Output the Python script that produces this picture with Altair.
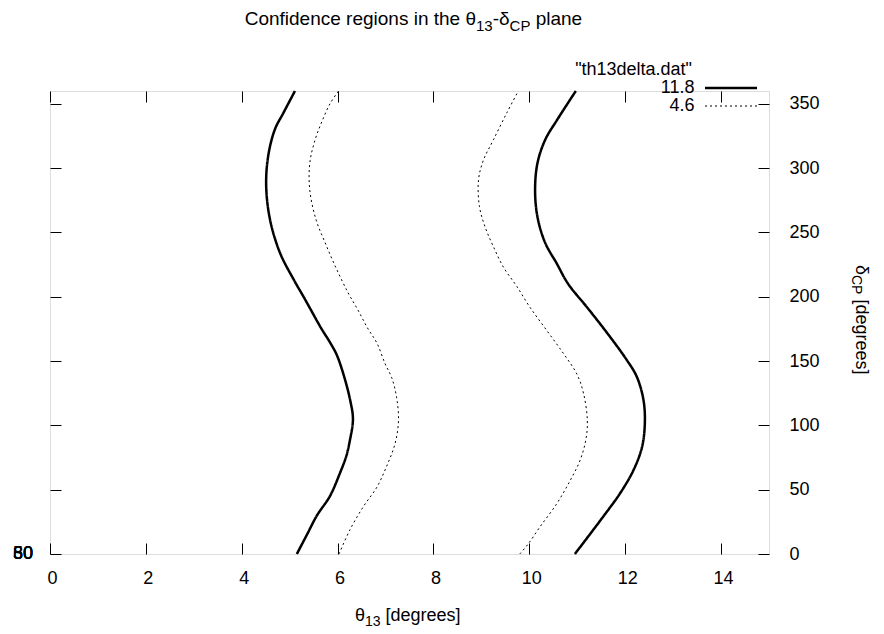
import altair as alt
import pandas as pd

# ---- data (theta13 in degrees vs deltaCP in degrees) ----
OUTER_L_D = [0, 15, 30, 45, 63, 76, 89, 105, 120, 140, 155, 164, 176, 190, 200, 213, 234, 260, 286, 309, 330, 343, 360]
OUTER_L_X = [5.15, 5.36, 5.57, 5.84, 6.05, 6.18, 6.26, 6.32, 6.26, 6.12, 5.98, 5.85, 5.65, 5.44, 5.29, 5.09, 4.80, 4.59, 4.51, 4.55, 4.69, 4.87, 5.11]

INNER_L_D = [0, 19, 37, 52, 68, 86, 104, 122, 137, 148, 164, 176, 190, 203, 223, 242, 260, 283, 304, 322, 336, 350, 360]
INNER_L_X = [6.03, 6.26, 6.54, 6.82, 7.02, 7.20, 7.27, 7.23, 7.13, 6.99, 6.82, 6.62, 6.42, 6.22, 5.96, 5.74, 5.55, 5.42, 5.42, 5.53, 5.67, 5.84, 6.02]

INNER_R_D = [0, 8, 21, 39, 57, 73, 89, 104, 125, 140, 156, 174, 192, 208, 223, 239, 254, 270, 291, 306, 322, 343, 360]
INNER_R_X = [9.80, 9.98, 10.22, 10.57, 10.85, 11.06, 11.18, 11.21, 11.13, 10.99, 10.71, 10.36, 10.01, 9.74, 9.46, 9.25, 9.08, 8.96, 8.94, 9.04, 9.25, 9.53, 9.77]

OUTER_R_D = [0, 29, 47, 65, 83, 102, 120, 138, 151, 172, 192, 210, 226, 242, 262, 283, 304, 322, 337, 360]
OUTER_R_X = [10.95, 11.54, 11.89, 12.17, 12.35, 12.41, 12.38, 12.24, 12.03, 11.62, 11.20, 10.81, 10.57, 10.33, 10.17, 10.12, 10.17, 10.33, 10.57, 10.97]

LEVELS = ["11.8", "4.6"]
X_TICKS = [0, 2, 4, 6, 8, 10, 12, 14]
Y_TICKS = [0, 50, 100, 150, 200, 250, 300, 350]
LEFT_STACK = ["0", "30", "50", "60", "80"]
FONT = "Liberation Sans"
FS = 18
SUB = 14

rows = []
for level, name, ds, xs in [
    ("11.8", "outer-left", OUTER_L_D, OUTER_L_X),
    ("4.6", "inner-left", INNER_L_D, INNER_L_X),
    ("4.6", "inner-right", INNER_R_D, INNER_R_X),
    ("11.8", "outer-right", OUTER_R_D, OUTER_R_X),
]:
    for i, (d, x) in enumerate(zip(ds, xs)):
        rows.append({"level": level, "curve": name, "delta": d, "theta": x, "order": i})
df = pd.DataFrame(rows)
left_df = pd.DataFrame({"label": LEFT_STACK, "pos": [0] * len(LEFT_STACK)})

xscale = alt.Scale(domain=[0, 15], nice=False, zero=False)
yscale = alt.Scale(domain=[0, 360], nice=False, zero=False)

tick_common = dict(tickSize=11, offset=-11, domain=False, grid=False, title=None,
                   tickColor="black", tickWidth=1, labelColor="black", labelFont=FONT,
                   labelFontSize=FS)

legend = alt.Legend(
    title=None, orient="none", legendX=672, legendY=-12,
    symbolType="M-5.2,0H5.2", symbolSize=100, symbolStrokeColor="black",
    labelAlign="right", labelOffset={"expr": "-45.5"}, labelFont=FONT, labelFontSize=FS,
    labelColor="black", rowPadding={"expr": "-3"}, padding=0,
)

lines = alt.Chart(df).mark_line(color="black", interpolate="catmull-rom").encode(
    x=alt.X("theta:Q", scale=xscale,
            axis=alt.Axis(orient="bottom", values=X_TICKS, labelPadding=15,
                          labelBaseline="top", labelFlush=False, labelOffset=2,
                          **tick_common)),
    y=alt.Y("delta:Q", scale=yscale,
            axis=alt.Axis(orient="right", values=Y_TICKS, labelPadding=20,
                          labelAlign="left", labelBaseline="middle", labelFlush=False,
                          **tick_common)),
    detail="curve:N",
    order="order:Q",
    strokeDash=alt.StrokeDash("level:N", scale=alt.Scale(domain=LEVELS, range=[[1, 0], [2, 3]]), legend=legend),
    strokeWidth=alt.StrokeWidth("level:N", scale=alt.Scale(domain=LEVELS, range=[2.5, 1.0]), legend=legend),
)

mirror = alt.Chart(df).mark_point(opacity=0).encode(
    x=alt.X("theta:Q", scale=xscale,
            axis=alt.Axis(orient="top", values=X_TICKS, labels=False, **tick_common)),
    y=alt.Y("delta:Q", scale=yscale,
            axis=alt.Axis(orient="left", values=Y_TICKS, labels=False, **tick_common)),
)

left_labels = alt.Chart(left_df).mark_text(
    align="right", baseline="middle", font=FONT, fontSize=FS, color="black"
).encode(
    x=alt.value(-17),
    y=alt.Y("pos:Q", scale=yscale, axis=None),
    text="label:N",
)


def seg(text, x, y, size=FS, align="left", angle=0):
    return alt.Chart(left_df.head(1)).mark_text(
        align=align, baseline="alphabetic", font=FONT, fontSize=size,
        color="black", angle=angle
    ).encode(x=alt.value(x), y=alt.value(y), text=alt.value(text))


segs = [
    # title
    seg("Confidence regions in the θ", 426, -66, size=19, align="right"),
    seg("13", 426, -60.5, size=15),
    seg("-δ", 442.7, -66, size=19),
    seg("CP", 459.6, -60.5, size=15),
    seg("plane", 485.7, -66, size=19),
    # key title
    seg('"th13delta.dat"', 642, -16, align="right"),
    # x title
    seg("θ", 305, 530),
    seg("13", 315, 535, size=SUB),
    seg("[degrees]", 335.5, 530),
    # y title (rotated)
    seg("δ", 806, 174, angle=90),
    seg("CP", 801.5, 184, size=SUB, angle=90),
    seg("[degrees]", 806, 208.5, angle=90),
]

chart = alt.layer(lines, mirror, left_labels, *segs).resolve_axis(
    x="independent", y="independent"
).properties(
    width=719, height=463,
    autosize=alt.AutoSizeParams(type="none"),
    padding={"left": 42, "top": 83, "right": 106, "bottom": 76},
).configure_view(stroke="black", strokeWidth=1.2).configure(background="white")

chart.save("out.html", embed_options={"renderer": "svg", "actions": False})
